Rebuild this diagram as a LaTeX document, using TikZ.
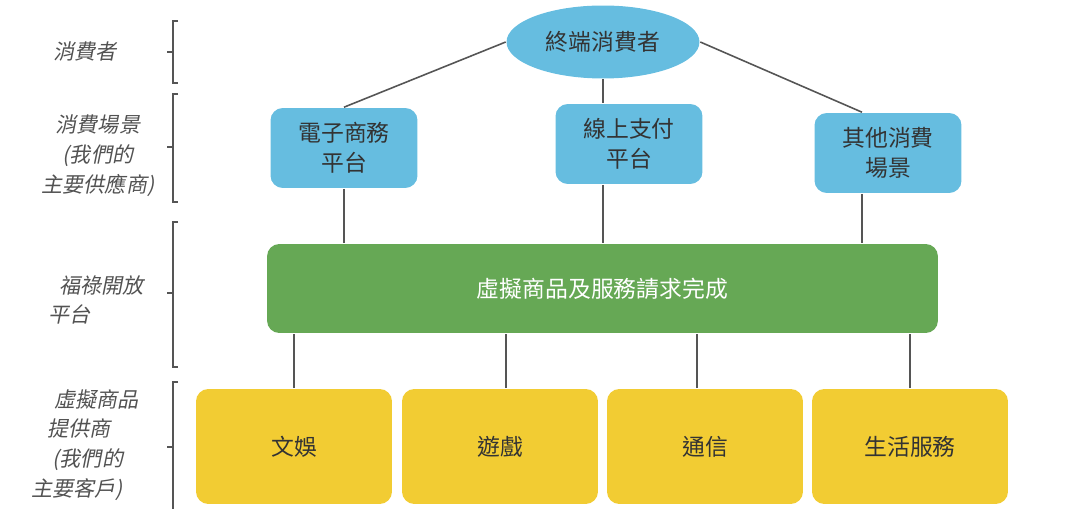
\documentclass[tikz,border=0pt]{standalone}
\usepackage{fontspec}
\setmainfont{Noto Sans CJK TC}
\newfontfamily\cjkslant[FakeSlant=0.2]{Noto Sans CJK TC}
\usetikzlibrary{shapes.geometric, positioning}
\definecolor{cblue}{HTML}{66BDE0}
\definecolor{cgreen}{HTML}{66A855}
\definecolor{cyellow}{HTML}{F2CC33}
\definecolor{cline}{HTML}{555555}
\definecolor{ctext}{HTML}{333333}
\tikzset{
  every picture/.style={font=\fontsize{13}{17}\selectfont, line width=0.9pt},
  box/.style={fill=#1, rounded corners=7pt, align=center, text=ctext, inner sep=0pt},
  box/.default=cblue,
  link/.style={draw=cline, line width=0.9pt},
  side/.style={font=\cjkslant\fontsize{12}{17}\selectfont, text=ctext!85},
  brace/.style={draw=cline, line width=0.8pt},
}

\begin{document}
\begin{tikzpicture}[x=0.02cm, y=-0.02cm,
                    upper/.style={box, minimum width=2.94cm, minimum height=1.6cm},
                    lower/.style={box=cyellow, minimum width=3.92cm, minimum height=2.3cm}]
  \useasboundingbox (0,0) rectangle (1080,509);
  % consumers and scenarios
  \node[ellipse, fill=cblue, text=ctext, inner sep=0pt, minimum width=3.86cm, minimum height=1.46cm] (user) at (603,42) {終端消費者};
  \node[upper] (b1) at (344,148) {電子商務\\平台};
  \node[upper] (b2) at (629,144) {線上支付\\平台};
  \node[upper] (b3) at (888,153) {其他消費\\場景};
  % open platform
  \node[box=cgreen, text=white, minimum width=13.42cm, minimum height=1.78cm] (grn) at (602.5,288.5) {虛擬商品及服務請求完成};
  % suppliers
  \foreach \t/\x [count=\i] in {文娛/294, 遊戲/500, 通信/705, 生活服務/910} \node[lower] (y\i) at (\x,446.5) {\t};
  % links
  \draw[link] (user.west) -- (b1.north);
  \draw[link] (user.south) -- (user.south |- b2.north);
  \draw[link] (user.east) -- ([xshift=-0.52cm]b3.north);
  \draw[link] (b1.south) -- (b1.south |- grn.north);
  \draw[link] (user.south |- b2.south) -- (user.south |- grn.north);
  \draw[link] ([xshift=-0.52cm]b3.south) -- ([xshift=-0.52cm]b3.south |- grn.north);
  \foreach \i/\dx in {1/0, 2/0.12, 3/-0.16, 4/0} \draw[link] ([xshift=\dx cm]y\i.north) -- ([xshift=\dx cm]y\i.north |- grn.south);
  % side labels
  \node[side] (s1) at (85,52) {消費者};
  \node[side, align=center] (s2) at (98,156) {消費場景\\(我們的\\主要供應商)};
  \node[side, align=left, anchor=west] (s3) at (42,300) {\hspace*{6pt}福祿開放\\平台};
  \node[side, align=left, anchor=west] (s4) at (25,445) {\hspace*{13pt}虛擬商品\\\hspace*{9pt}提供商\\\hspace*{12pt}(我們的\\主要客戶)};
  % brackets
  \foreach \t/\m/\b in {21/52/83, 94/147/202, 222/293/367}
    \draw[brace] (178,\t) -- (173,\t) -- (173,\b) -- (178,\b) (173,\m) -- (167,\m);
  \draw[brace] (178,382) -- (173,382) -- (173,509) (173,447) -- (167,447);
\end{tikzpicture}
\end{document}
